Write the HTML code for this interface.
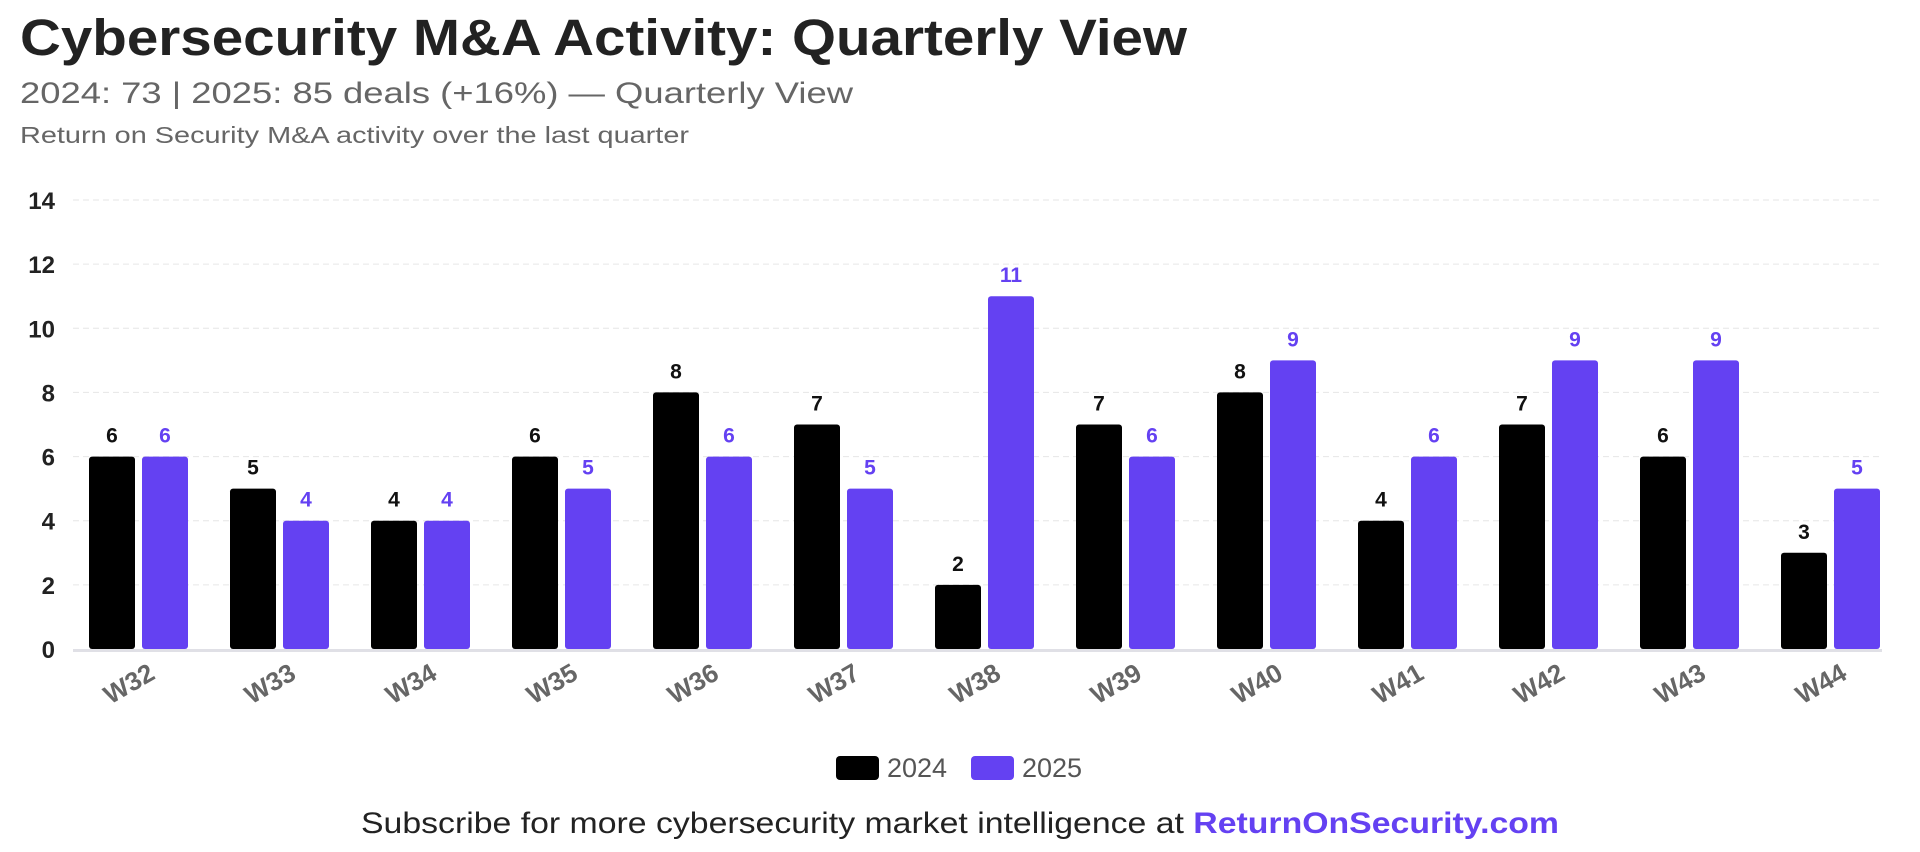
<!DOCTYPE html>
<html><head><meta charset="utf-8"><style>
body{margin:0;background:#fff;width:1920px;height:847px;overflow:hidden;font-family:"Liberation Sans",sans-serif}
</style></head><body>
<svg width="1920" height="847" xmlns="http://www.w3.org/2000/svg" id="svg" font-family="Liberation Sans, sans-serif">
<text x="20" y="55" font-size="51" font-weight="bold" fill="#222" textLength="1167" lengthAdjust="spacingAndGlyphs">Cybersecurity M&amp;A Activity: Quarterly View</text>
<text x="20" y="103" font-size="30" fill="#666" textLength="833" lengthAdjust="spacingAndGlyphs">2024: 73 | 2025: 85 deals (+16%) — Quarterly View</text>
<text x="20" y="143" font-size="23" fill="#666" textLength="669" lengthAdjust="spacingAndGlyphs">Return on Security M&amp;A activity over the last quarter</text>
<g id="grid"></g><g id="bars"></g><g id="xlabels"></g>
<g>
<rect x="836" y="756" width="43" height="24" rx="4" fill="#000"/>
<text x="887" y="777" font-size="27" fill="#555">2024</text>
<rect x="971" y="756" width="43" height="24" rx="4" fill="#6441f2"/>
<text x="1022" y="777" font-size="27" fill="#555">2025</text>
</g>
<text x="361" y="833" font-size="30" fill="#222" textLength="1198" lengthAdjust="spacingAndGlyphs">Subscribe for more cybersecurity market intelligence at <tspan font-weight="bold" fill="#6441f2">ReturnOnSecurity.com</tspan></text>
</svg>
<script>
const categories=["W32","W33","W34","W35","W36","W37","W38","W39","W40","W41","W42","W43","W44"];
const values2024=[6,5,4,6,8,7,2,7,8,4,7,6,3];
const values2025=[6,4,4,5,6,5,11,6,9,6,9,9,5];
const yTicks=[0,2,4,6,8,10,12,14];
const NS="http://www.w3.org/2000/svg";
const x0=68,y0=649,yTop=200,yMax=14;
const band=141;
const y=v=>y0-(v/yMax)*(y0-yTop);
const cx=i=>x0+band*(i+0.5);
function mk(t,a,p){const e=document.createElementNS(NS,t);for(const k in a)e.setAttribute(k,a[k]);p.appendChild(e);return e;}
const grid=document.getElementById('grid'),bars=document.getElementById('bars'),xl=document.getElementById('xlabels');
yTicks.forEach(t=>{
 if(t>0){const l=mk('line',{x1:73,x2:1882,y1:y(t),y2:y(t),stroke:'#e6e6e6','stroke-dasharray':'6 4'},grid);
 
 }
 const tx=mk('text',{x:55,y:y(t)+9,'font-size':24,'font-weight':'bold','text-anchor':'end',fill:'#222'},grid);
 tx.textContent=t;
 
 
});
const base=mk('line',{x1:73,x2:1882,y1:y0+1.5,y2:y0+1.5,stroke:'#e0e0e6','stroke-width':3},grid);


const bw=46,gap=7;
categories.forEach((c,i)=>{
 [[values2024[i],'#000',-1,'2024','#111'],[values2025[i],'#6441f2',1,'2025','#6441f2']].forEach(([v,col,s,yr,tc])=>{
  const bx=s<0?cx(i)-gap/2-bw:cx(i)+gap/2;
  const r=mk('rect',{x:bx,y:y(v),width:bw,height:y0-y(v),rx:3,fill:col},bars);
  
  
  const t=mk('text',{x:bx+bw/2,y:y(v)-14,'font-size':21,'font-weight':'bold','text-anchor':'middle',fill:tc},bars);
  t.textContent=v;
  
  
 });
 const lx=cx(i)+18,ly=678;
 const t=mk('text',{x:lx,y:ly,'font-size':26,'font-weight':'bold','text-anchor':'end',fill:'#666',transform:`rotate(-30 ${lx} ${ly})`},xl);
 t.textContent=c;
 
 
});
</script>
</body></html>
